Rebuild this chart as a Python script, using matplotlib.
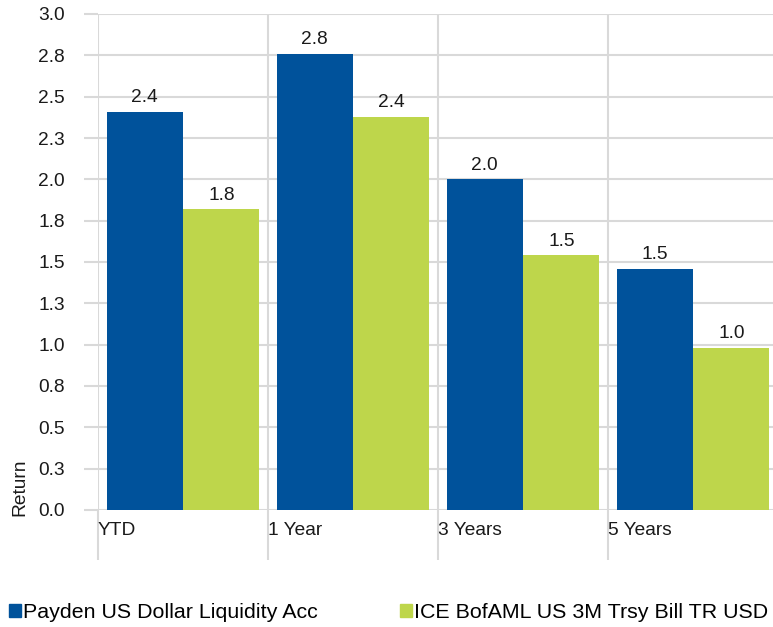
import matplotlib.pyplot as plt
from matplotlib.patches import Patch

plt.rcParams['font.family'] = ['Liberation Sans', 'DejaVu Sans']

# data
categories = ['YTD', '1 Year', '3 Years', '5 Years']
fund_name = 'Payden US Dollar Liquidity Acc'
bench_name = 'ICE BofAML US 3M Trsy Bill TR USD'
fund = [2.41, 2.76, 2.00, 1.46]
bench = [1.82, 2.38, 1.54, 0.98]
y_ticks = [0.0, 0.25, 0.5, 0.75, 1.0, 1.25, 1.5, 1.75, 2.0, 2.25, 2.5, 2.75, 3.0]
y_tick_labels = ['0.0', '0.3', '0.5', '0.8', '1.0', '1.3', '1.5', '1.8',
                 '2.0', '2.3', '2.5', '2.8', '3.0']

blue = '#00529B'
green = '#BED64B'
grid_c = '#D9D9D9'
txt_c = '#1a1a1a'
fs = 13.8
fs_leg = 15.4

fig = plt.figure(figsize=(7.73, 6.27), dpi=100)
# axes runs a little past the right edge, like the original
ax = fig.add_axes([98 / 773, 117 / 627, 680 / 773, 496 / 627])

x = list(range(len(categories)))
w = 0.447
b1 = ax.bar([i - 0.2255 for i in x], fund, width=w, color=blue, zorder=3)
b2 = ax.bar([i + 0.2255 for i in x], bench, width=w, color=green, zorder=3)

for bars, vals in ((b1, fund), (b2, bench)):
    for r, v in zip(bars, vals):
        ax.annotate(f'{v:.1f}', (r.get_x() + r.get_width() / 2, v),
                    xytext=(0, 4), textcoords='offset points',
                    ha='center', va='bottom', fontsize=fs, color=txt_c)

ax.set_xlim(-0.5, 3.5)
ax.set_ylim(0, 3.0)

# y axis
ax.set_yticks(y_ticks)
ax.set_yticklabels(y_tick_labels)
ax.tick_params(axis='y', length=10, width=1.5, color=grid_c, pad=14,
               labelsize=fs, labelcolor=txt_c)

# x axis: boundary ticks, labels placed at left of each category
bounds = [i - 0.5 for i in x] + [3.5]
ax.set_xticks(bounds)
ax.set_xticklabels([])
ax.tick_params(axis='x', length=36, width=1.5, color=grid_c)
for i, c in enumerate(categories):
    ax.text(i - 0.5, -0.042, c, transform=ax.get_xaxis_transform(),
            ha='left', va='center', fontsize=fs, color=txt_c)

ax.grid(True, color=grid_c, linewidth=1.5, zorder=0)
for s in ax.spines.values():
    s.set_visible(False)

ax.set_ylabel('Return', fontsize=fs, va='center', color=txt_c)
ax.yaxis.set_label_coords(-0.115, 0.046)

handles = [Patch(color=blue), Patch(color=green)]
fig.legend(handles, [fund_name, bench_name], ncol=2, loc='center left',
           bbox_to_anchor=(9 / 773, 14 / 627), frameon=False, fontsize=fs_leg,
           handlelength=0.56, handleheight=0.56, handletextpad=0.1,
           columnspacing=3.85, borderaxespad=0, borderpad=0)

fig.savefig('out.png', dpi=100)
